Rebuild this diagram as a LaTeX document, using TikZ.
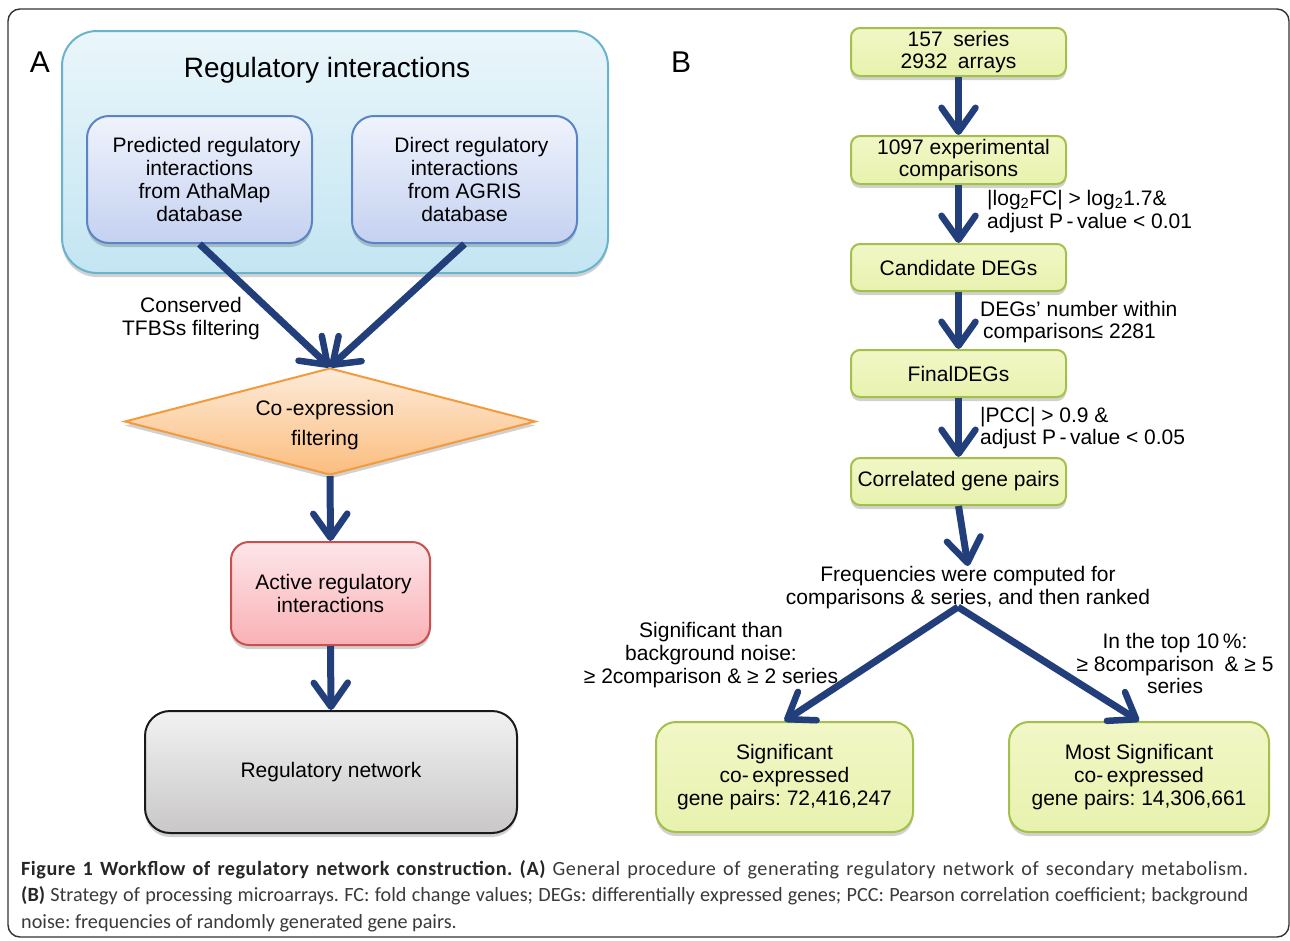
\documentclass[tikz,border=0pt]{standalone}
\usepackage{fontspec}
\setmainfont{Liberation Sans}
\newfontfamily\capfont{Carlito}
\usetikzlibrary{arrows.meta,shapes.geometric,shadows}
\definecolor{arrowblue}{HTML}{233F7B}
\definecolor{contborder}{HTML}{6AB3CC}
\definecolor{conttop}{HTML}{EAF6FB}
\definecolor{contbot}{HTML}{C3E5F2}
\definecolor{bborder}{HTML}{5B84C4}
\definecolor{btop}{HTML}{EFF3FC}
\definecolor{bbot}{HTML}{C4D1F0}
\definecolor{dborder}{HTML}{F59A3C}
\definecolor{dtop}{HTML}{FDEBD9}
\definecolor{dbot}{HTML}{FBBD7E}
\definecolor{rborder}{HTML}{C9504F}
\definecolor{rtop}{HTML}{FDE6E9}
\definecolor{rbot}{HTML}{F9B1B5}
\definecolor{gyborder}{HTML}{1A1A1A}
\definecolor{gytop}{HTML}{F2F2F2}
\definecolor{gybot}{HTML}{C9C7C7}
\definecolor{gborder}{HTML}{A3C14A}
\definecolor{gtop}{HTML}{F1F7C6}
\definecolor{gbot}{HTML}{E8F2AE}
\definecolor{captxt}{HTML}{3A3A3A}
\frenchspacing
\begin{document}
\begin{tikzpicture}[x=1pt,y=-1pt,
  txt/.style={font=\fontsize{21}{22.7}\selectfont, align=center, inner sep=0pt, text=black},
  shad/.style={drop shadow={shadow xshift=0pt, shadow yshift=-4pt, opacity=0.18, fill=black}},
  gbox/.style={draw=gborder, line width=2pt, rounded corners=9pt, top color=gtop, bottom color=gbot, minimum width=215pt, minimum height=48pt, txt, shad},
  bbox/.style={draw=bborder, line width=2pt, rounded corners=22pt, top color=btop, bottom color=bbot, minimum width=225pt, minimum height=127pt, txt, shad},
  arr/.style={draw=arrowblue, line width=7pt, -{Straight Barb[length=24pt, width=34pt, line width=6.5pt, round]}},
  lbl/.style={txt},
]
\useasboundingbox (0,0) rectangle (1290,940);
\draw[line width=1.4pt, draw=black!80, rounded corners=12pt] (8,9) rectangle (1289,937);

% ---------- Panel A ----------
\node[font=\fontsize{30}{30}\selectfont, inner sep=0pt] (labA) at (40,62) {A};
\node[draw=contborder, line width=2pt, rounded corners=35pt, top color=conttop, bottom color=contbot,
      minimum width=546pt, minimum height=242pt, shad] (regint) at (335,152) {};
\node[font=\fontsize{28}{28}\selectfont, inner sep=0pt] (regtitle) at (327,70) {Regulatory interactions};
\node[bbox] (pred) at (199.5,179.5) {\hspace*{14pt}Predicted regulatory\\interactions\\\hspace*{10pt}from AthaMap\\database};
\node[bbox] (direct) at (464.5,179.5) {\hspace*{14pt}Direct regulatory\\interactions\\from AGRIS\\database};

\node[diamond, draw=dborder, line width=2pt, top color=dtop, bottom color=dbot,
      minimum width=411pt, minimum height=107pt, shape aspect=3.84, inner sep=0pt, shad] (coexp) at (330,421.5) {};
\node[txt] (coexptxt) at (325,425) {Co\,-expression\\[8pt]filtering};

\node[txt] (consv) at (191,318.5) {Conserved\\TFBSs filtering};

\node[draw=rborder, line width=2pt, rounded corners=18pt, top color=rtop, bottom color=rbot,
      minimum width=199pt, minimum height=103pt, txt, shad] (active) at (330.5,593.5) {\hspace*{6pt}Active regulatory\\interactions};
\node[draw=gyborder, line width=2pt, rounded corners=25pt, top color=gytop, bottom color=gybot,
      minimum width=372pt, minimum height=122pt, txt, shad] (regnet) at (331,772) {Regulatory network};

\draw[arr] (pred.south) -- (coexp.north);
\draw[arr] (direct.south) -- (coexp.north);
\draw[arr] (coexp.south) -- (active.north);
\draw[arr] (active.south) -- (regnet.north);

% ---------- Panel B ----------
\node[font=\fontsize{30}{30}\selectfont, inner sep=0pt] (labB) at (681,62) {B};
\node[gbox] (b1) at (958.5,52) {157\enspace series\\2932\enspace arrays};
\node[gbox] (b2) at (958.5,160) {\hspace*{10pt}1097 experimental\\comparisons};
\node[gbox, minimum height=47pt] (b3) at (958.5,267.5) {Candidate DEGs};
\node[gbox, minimum height=47pt] (b4) at (958.5,373.5) {FinalDEGs};
\node[gbox, minimum height=47pt] (b5) at (958.5,481.5) {Correlated gene pairs};

\draw[arr] (b1.south) -- (b2.north);
\draw[arr] (b2.south) -- (b3.north);
\draw[arr] (b3.south) -- (b4.north);
\draw[arr] (b4.south) -- (b5.north);

\node[lbl, anchor=west, align=left] (c1) at (987,211.5) {|log\textsubscript{2}FC| > log\textsubscript{2}1.7\&\\adjust P\,-\,value < 0.01};
\node[lbl, anchor=west, align=left] (c2) at (980,322) {DEGs’ number within\\\hspace*{3pt}comparison≤ 2281};
\node[lbl, anchor=west, align=left] (c3) at (980,428) {|PCC| > 0.9 \&\\adjust P\,-\,value < 0.05};

\node[lbl, anchor=north] (freq) at (968,566) {Frequencies were computed for\\comparisons \& series, and then ranked};
\draw[arr] (b5.south) -- (freq.north);

\coordinate (apex) at (958,607);
\node[gbox, minimum width=257pt, minimum height=110pt, rounded corners=20pt] (sig) at (784.5,777) {Significant\\co-\,expressed\\gene pairs: 72,416,247};
\node[gbox, minimum width=260pt, minimum height=110pt, rounded corners=20pt] (most) at (1139,777) {Most Significant\\co-\,expressed\\gene pairs: 14,306,661};

\draw[arr] (apex) -- (sig.north);
\draw[arr] (apex) -- (most.north);

\node[lbl] (sigcrit) at (711,655) {Significant than\\background noise:\\≥ 2comparison \& ≥ 2 series};
\node[lbl] (mostcrit) at (1175,663.5) {In the top 10\,\%:\\≥ 8comparison\enspace\& ≥ 5\\series};

% ---------- Caption ----------
\node[anchor=north west, align=justify, text width=1227pt, inner sep=0pt, text=captxt,
      font=\capfont\fontsize{20.2}{26.5}\selectfont] (caption) at (21,860)
{{\addfontfeature{LetterSpace=2.5}{\bfseries\color{black!85}Figure 1 Workflow of regulatory network construction. (A)} General procedure of generating regulatory network of secondary metabolism.}\linebreak
{\bfseries\color{black!85}(B)} Strategy of processing microarrays. FC: fold change values; DEGs: differentially expressed genes; PCC: Pearson correlation coefficient; background\linebreak
noise: frequencies of randomly generated gene pairs.};
\end{tikzpicture}
\end{document}
